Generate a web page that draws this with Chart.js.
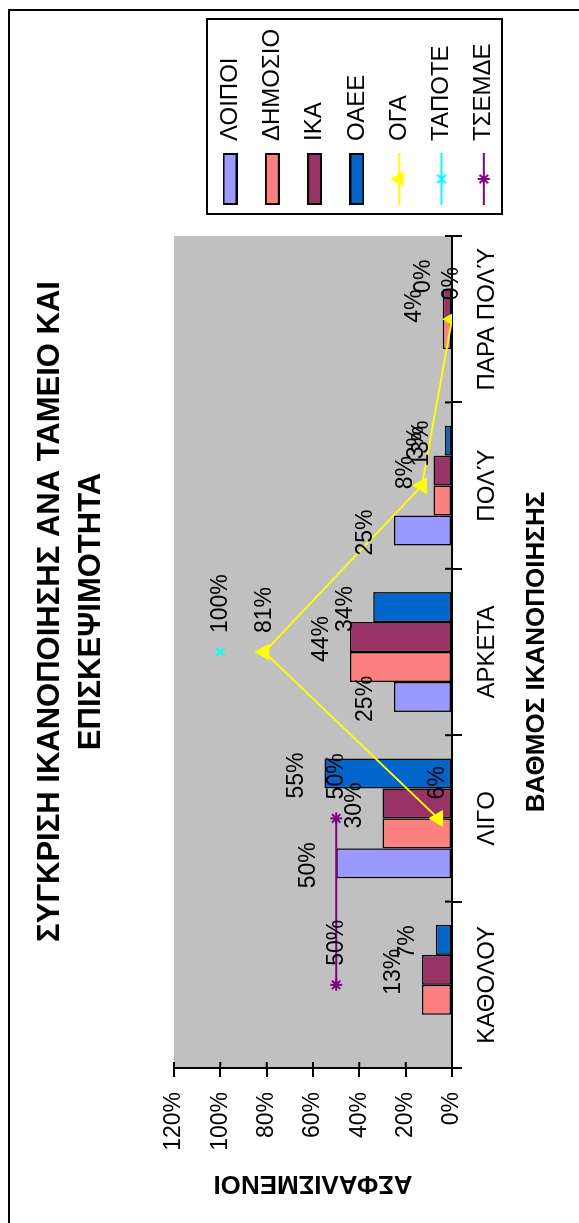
<!DOCTYPE html>
<html>
<head>
<meta charset="utf-8">
<script src="https://cdn.jsdelivr.net/npm/chart.js@4.4.0/dist/chart.umd.min.js"></script>
<style>
html, body { margin: 0; padding: 0; background: #fff; overflow: hidden; }
#page { position: absolute; left: 0; top: 0; width: 1223px; height: 579px; transform-origin: 0 0; transform: translate(0, 1223px) rotate(-90deg); }
#frame { position: absolute; left: -20px; top: 8px; width: 1234px; height: 620px; border: 2px solid #000; box-sizing: border-box; }
#myChart { position: absolute; left: 0; top: 0; }
</style>
</head>
<body>
<div id="page">
    <div id="frame"></div>
    <canvas id="myChart" width="1223" height="579"></canvas>
</div>
<script>
// chart values
const categories = ['ΚΑΘΟΛΟΥ', 'ΛΙΓΟ', 'ΑΡΚΕΤΑ', 'ΠΟΛΎ', 'ΠΑΡΑ ΠΟΛΎ'];
const loipoi = [null, 50, 25, 25, null];
const dimosio = [13, 30, 44, 8, 4];
const ika = [13, 30, 44, 8, 4];
const oaee = [7, 55, 34, 3, 0];
const oga = [null, 6, 81, 13, 0];
const tapote = [null, null, 100, null, null];
const tsemde = [50, 50, null, null, null];
const yTicks = [0, 20, 40, 60, 80, 100, 120];

const FONT = 'Arial, "Liberation Sans", sans-serif';
Chart.defaults.font.family = FONT;
Chart.defaults.color = '#000';

const LEGEND_W = 236;

function drawMarker(g, style, x, y, r) {
    g.beginPath();
    if (style === 'triangle') {
        g.moveTo(x, y - r);
        g.lineTo(x + 0.866 * r, y + 0.5 * r);
        g.lineTo(x - 0.866 * r, y + 0.5 * r);
        g.closePath();
        g.fill();
        return;
    }
    const d = r * 0.707;
    g.moveTo(x - d, y - d); g.lineTo(x + d, y + d);
    g.moveTo(x + d, y - d); g.lineTo(x - d, y + d);
    if (style === 'star') {
        g.moveTo(x, y - r); g.lineTo(x, y + r);
        g.moveTo(x - r, y); g.lineTo(x + r, y);
    }
    g.stroke();
}

// legend swatches: boxes for the bars, line + marker for the lines
function swatch(color, marker) {
    const c = document.createElement('canvas');
    const g = c.getContext('2d');
    c.width = 52;
    if (!marker) {
        c.height = 15;
        g.fillStyle = color;
        g.fillRect(0, 0, 52, 15);
        g.strokeStyle = '#000';
        g.lineWidth = 2;
        g.strokeRect(1, 1, 50, 13);
        return c;
    }
    c.height = 20;
    g.strokeStyle = color;
    g.fillStyle = color;
    g.lineWidth = 2;
    g.beginPath();
    g.moveTo(0, 10);
    g.lineTo(52, 10);
    g.stroke();
    drawMarker(g, marker, 26, 10, marker === 'triangle' ? 9 : 6);
    return c;
}

const swatches = [
    swatch('#9999FF'),
    swatch('#FF8080'),
    swatch('#993366'),
    swatch('#0066CC'),
    swatch('#FFFF00', 'triangle'),
    swatch('#00FFFF', 'crossRot'),
    swatch('#800080', 'star')
];

const plotBackground = {
    id: 'plotBackground',
    beforeDraw(chart) {
        const a = chart.chartArea;
        const ctx = chart.ctx;
        ctx.save();
        ctx.fillStyle = '#C0C0C0';
        ctx.fillRect(a.left, a.top, a.right - a.left, a.bottom - a.top);
        ctx.restore();
    }
};

const legendPlace = {
    id: 'legendPlace',
    beforeLayout(chart) {
        const lg = chart.legend;
        if (lg && !lg._fixedWidth) {
            const fit = lg.fit;
            lg.fit = function () {
                fit.call(this);
                this.width = LEGEND_W;
            };
            lg._fixedWidth = true;
        }
    },
    afterLayout(chart) {
        const lg = chart.legend;
        const pad = lg.options.labels.padding;
        lg.left = chart.chartArea.right + 31 - pad;
        lg.right = lg.left + LEGEND_W;
        lg.top = chart.chartArea.top + 44 - pad;
        lg.bottom = chart.height;
    },
    afterDraw(chart) {
        const lg = chart.legend;
        const pad = lg.options.labels.padding;
        const ctx = chart.ctx;
        ctx.save();
        ctx.strokeStyle = '#000';
        ctx.lineWidth = 2;
        ctx.strokeRect(lg.left + pad - 9, lg.top + pad - 11, 195, 295);
        ctx.restore();
    }
};

// small tick marks reaching into the plot area
const innerTicks = {
    id: 'innerTicks',
    afterDraw(chart) {
        const {ctx, chartArea: a, scales: {x, y}} = chart;
        ctx.save();
        ctx.strokeStyle = '#000';
        ctx.lineWidth = 2;
        ctx.beginPath();
        y.ticks.forEach((t, i) => {
            const py = y.getPixelForTick(i);
            ctx.moveTo(a.left, py);
            ctx.lineTo(a.left + 6, py);
        });
        for (let i = 0; i <= categories.length; i++) {
            const px = x.getPixelForValue(i - 0.5);
            ctx.moveTo(px, a.bottom);
            ctx.lineTo(px, a.bottom - 7);
        }
        ctx.stroke();
        ctx.restore();
    }
};

const valueLabels = {
    id: 'valueLabels',
    afterDatasetsDraw(chart) {
        const ctx = chart.ctx;
        ctx.save();
        ctx.font = '23px ' + FONT;
        ctx.fillStyle = '#000';
        ctx.textBaseline = 'middle';
        chart.data.datasets.forEach((ds, i) => {
            if (!ds.showLabels) return;
            const meta = chart.getDatasetMeta(i);
            meta.data.forEach((el, j) => {
                const v = ds.data[j];
                if (v === null || v === undefined) return;
                if (meta.type === 'bar') {
                    ctx.textAlign = 'center';
                    ctx.fillText(v + '%', el.x - 2, el.y - 28);
                } else {
                    ctx.textAlign = 'left';
                    ctx.fillText(v + '%', el.x + 19, el.y);
                }
            });
        });
        ctx.restore();
    }
};

const ctx = document.getElementById('myChart');
const myChart = new Chart(ctx, {
    type: 'bar',
    data: {
        labels: categories,
        datasets: [
            { label: 'ΛΟΙΠΟΙ', data: loipoi, backgroundColor: '#9999FF', borderColor: '#000', borderWidth: 1.5, borderSkipped: false, showLabels: true },
            { label: 'ΔΗΜΟΣΙΟ', data: dimosio, backgroundColor: '#FF8080', borderColor: '#000', borderWidth: 1.5, borderSkipped: false, showLabels: false },
            { label: 'ΙΚΑ', data: ika, backgroundColor: '#993366', borderColor: '#000', borderWidth: 1.5, borderSkipped: false, showLabels: true },
            { label: 'ΟΑΕΕ', data: oaee, backgroundColor: '#0066CC', borderColor: '#000', borderWidth: 1.5, borderSkipped: false, showLabels: true },
            { type: 'line', label: 'ΟΓΑ', data: oga, order: -1, borderColor: '#FFFF00', borderWidth: 2, tension: 0,
              pointStyle: 'triangle', pointRadius: 9, pointBackgroundColor: '#FFFF00', pointBorderColor: '#FFFF00', pointBorderWidth: 1, showLabels: true },
            { type: 'line', label: 'ΤΑΠΟΤΕ', data: tapote, order: -1, borderColor: '#00FFFF', borderWidth: 2,
              pointStyle: 'crossRot', pointRadius: 6, pointBorderColor: '#00FFFF', pointBorderWidth: 2, showLabels: true },
            { type: 'line', label: 'ΤΣΕΜΔΕ', data: tsemde, order: -1, borderColor: '#800080', borderWidth: 2, tension: 0,
              pointStyle: 'star', pointRadius: 6, pointBorderColor: '#800080', pointBorderWidth: 2, showLabels: true }
        ]
    },
    options: {
        responsive: false,
        maintainAspectRatio: false,
        devicePixelRatio: 1,
        animation: false,
        events: [],
        layout: { padding: 0 },
        datasets: {
            bar: { categoryPercentage: 0.72, barPercentage: 1.0 }
        },
        scales: {
            x: {
                offset: true,
                grid: { offset: true, drawOnChartArea: false, tickLength: 10, color: '#000', lineWidth: 2 },
                border: { color: '#000', width: 2 },
                ticks: { color: '#000', font: { size: 24 }, padding: 11, maxRotation: 0, minRotation: 0, autoSkip: false },
                title: { display: true, text: 'ΒΑΘΜΟΣ ΙΚΑΝΟΠΟΙΗΣΗΣ', color: '#000', font: { size: 26, weight: 'bold' }, padding: { top: 0, bottom: 27 } },
                afterFit(s) { s.height = 127; }
            },
            y: {
                min: yTicks[0],
                max: yTicks[yTicks.length - 1],
                ticks: { stepSize: yTicks[1] - yTicks[0], callback: v => v + '%', color: '#000', font: { size: 23 }, padding: 15 },
                grid: { drawOnChartArea: false, tickLength: 9, color: '#000', lineWidth: 2 },
                border: { color: '#000', width: 2 },
                title: { display: true, text: 'ΑΣΦΑΛΙΣΜΕΝΟΙ', color: '#000', font: { size: 26, weight: 'bold' }, padding: { top: 24, bottom: 0 } },
                afterFit(s) { s.width = 155; }
            }
        },
        plugins: {
            title: {
                display: true,
                text: ['ΣΥΓΚΡΙΣΗ ΙΚΑΝΟΠΟΙΗΣΗΣ ΑΝΑ ΤΑΜΕΙΟ ΚΑΙ', 'ΕΠΙΣΚΕΨΙΜΟΤΗΤΑ'],
                color: '#000',
                font: { size: 31, weight: 'bold', lineHeight: 41 / 31 },
                padding: { top: 29.5, bottom: 62.5 }
            },
            legend: {
                position: 'right',
                align: 'start',
                labels: {
                    usePointStyle: true,
                    pointStyleWidth: 52,
                    boxHeight: 15,
                    padding: 18.3,
                    color: '#000',
                    font: { size: 24 },
                    generateLabels(chart) {
                        return chart.data.datasets.map((ds, i) => ({
                            text: ds.label,
                            pointStyle: swatches[i],
                            datasetIndex: i,
                            hidden: false,
                            fontColor: '#000',
                            lineWidth: 0,
                            fillStyle: 'rgba(0,0,0,0)',
                            strokeStyle: 'rgba(0,0,0,0)'
                        }));
                    }
                }
            },
            tooltip: { enabled: false }
        }
    },
    plugins: [plotBackground, legendPlace, innerTicks, valueLabels]
});
</script>
</body>
</html>
